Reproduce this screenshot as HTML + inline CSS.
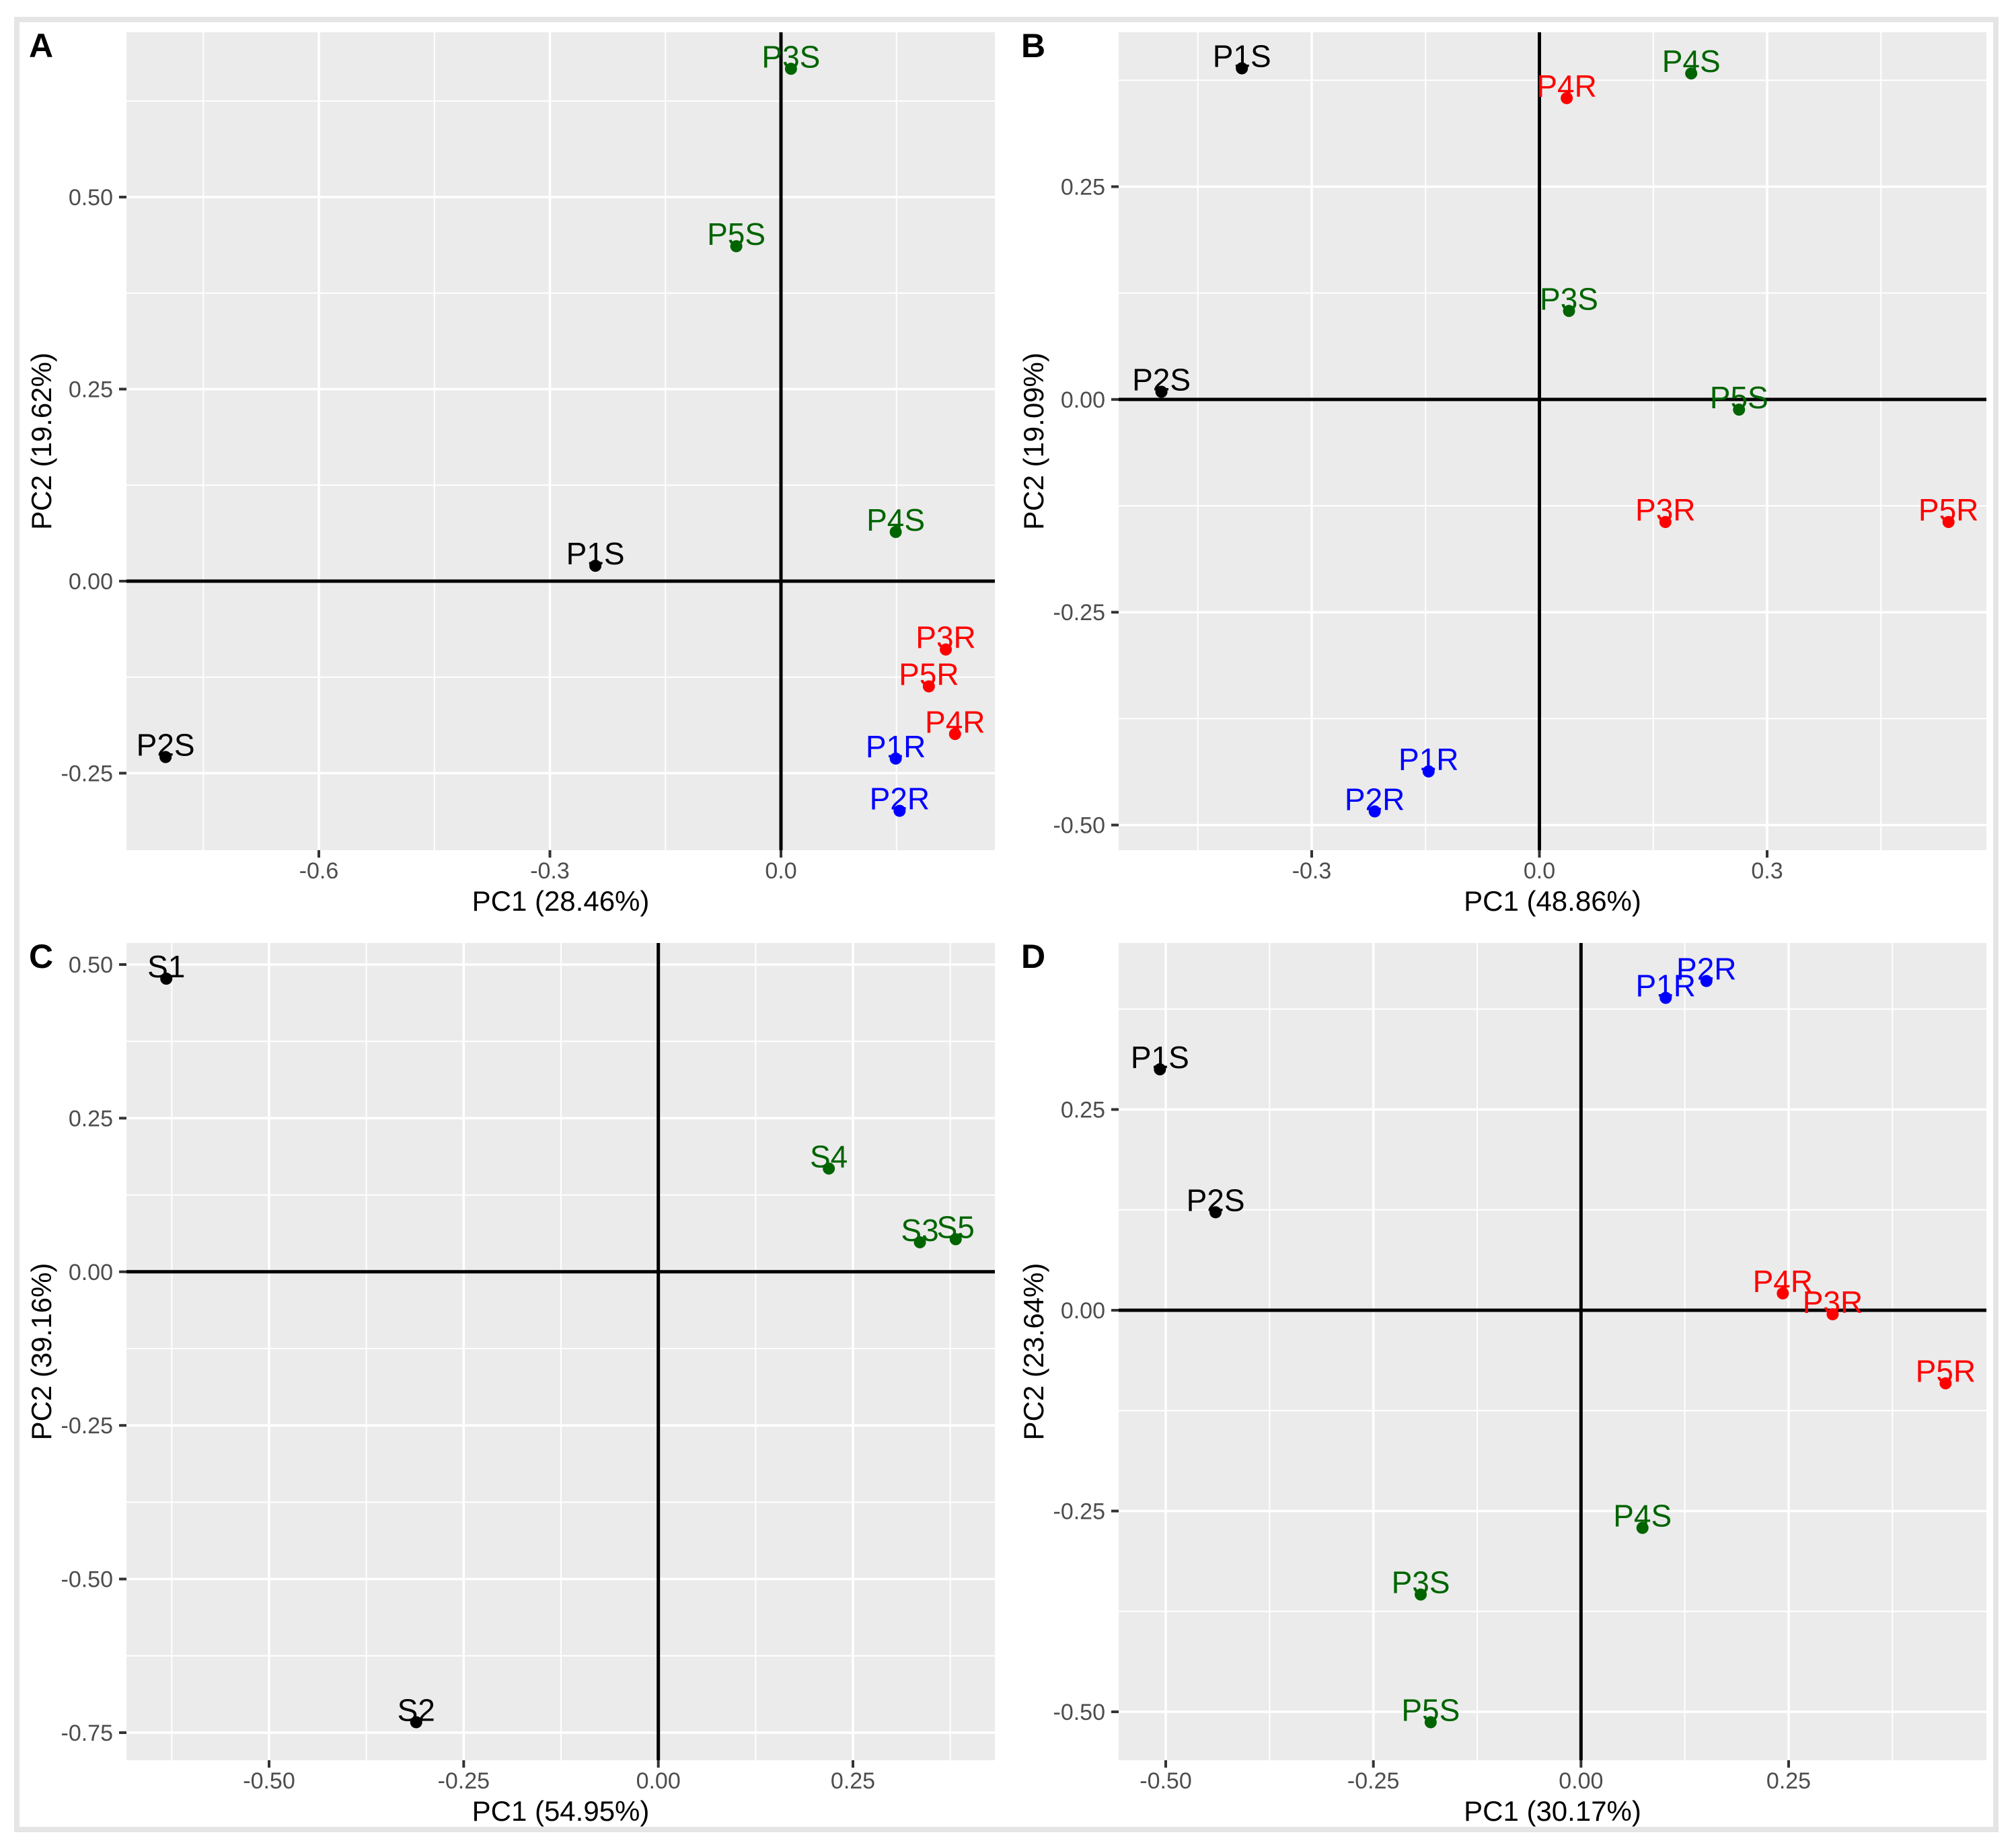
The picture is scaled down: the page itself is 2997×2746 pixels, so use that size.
<!DOCTYPE html>
<html><head><meta charset="utf-8"><style>
html,body{margin:0;padding:0;background:#fff;}
svg{display:block;font-family:"Liberation Sans",Arial,sans-serif;}
</style></head><body>
<svg id="fig" width="2997" height="2746" viewBox="0 0 2997 2746" xmlns="http://www.w3.org/2000/svg">
<rect x="0" y="0" width="2997" height="2746" fill="#fff"/>
<rect x="25" y="29" width="2942" height="2691" fill="none" stroke="#e5e5e5" stroke-width="8"/>
</svg>
<script>
// ---- data: panel A ----
const aLabels = ["P3S","P5S","P4S","P1S","P3R","P5R","P4R","P1R","P2R","P2S"];
const aPC1 = [0.013,-0.058,0.149,-0.241,0.214,0.192,0.226,0.149,0.154,-0.799];
const aPC2 = [0.667,0.436,0.064,0.020,-0.089,-0.137,-0.199,-0.231,-0.299,-0.229];
const aColors = ["g","g","g","k","r","r","r","b","b","k"];
// ---- data: panel B ----
const bLabels = ["P1S","P4S","P4R","P3S","P2S","P5S","P3R","P5R","P1R","P2R"];
const bPC1 = [-0.392,0.200,0.036,0.039,-0.498,0.263,0.166,0.539,-0.146,-0.217];
const bPC2 = [0.389,0.383,0.354,0.104,0.009,-0.012,-0.144,-0.144,-0.437,-0.484];
const bColors = ["k","g","r","g","k","g","r","r","b","b"];
// ---- data: panel C ----
const cLabels = ["S1","S4","S3","S5","S2"];
const cPC1 = [-0.632,0.219,0.336,0.382,-0.311];
const cPC2 = [0.477,0.168,0.048,0.053,-0.733];
const cColors = ["k","g","g","g","k"];
// ---- data: panel D ----
const dLabels = ["P2R","P1R","P1S","P2S","P4R","P3R","P5R","P4S","P3S","P5S"];
const dPC1 = [0.151,0.102,-0.507,-0.440,0.243,0.303,0.439,0.074,-0.193,-0.181];
const dPC2 = [0.410,0.389,0.300,0.122,0.021,-0.005,-0.091,-0.271,-0.354,-0.513];
const dColors = ["b","b","k","k","r","r","r","g","g","g"];
// ---- axis titles ----
const xTitles = ["PC1 (28.46%)","PC1 (48.86%)","PC1 (54.95%)","PC1 (30.17%)"];
const yTitles = ["PC2 (19.62%)","PC2 (19.09%)","PC2 (39.16%)","PC2 (23.64%)"];
const panelLetters = ["A","B","C","D"];

const COL = {k:"#000000", g:"#006400", r:"#ff0000", b:"#0000ff"};
const NS = "http://www.w3.org/2000/svg";
const svg = document.getElementById("fig");
function mk(tag, attrs, parent){
  const e = document.createElementNS(NS, tag);
  for (const k in attrs) e.setAttribute(k, attrs[k]);
  (parent||svg).appendChild(e); return e;
}

const panels = [
  {rect:[188,48,1479,1264], xa:[-0.6,474,0,1161], ya:[0.5,293,0,864], xstep:0.3, ystep:0.25, xdec:1, ydec:2,
   L:aLabels, X:aPC1, Y:aPC2, C:aColors},
  {rect:[1663,48,2953,1264], xa:[-0.3,1950,0.3,2627], ya:[0.25,277.5,-0.5,1226.6], xstep:0.3, ystep:0.25, xdec:1, ydec:2,
   L:bLabels, X:bPC1, Y:bPC2, C:bColors},
  {rect:[188,1402,1479,2617], xa:[-0.5,400,0.25,1268], ya:[0.5,1434,-0.75,2576], xstep:0.25, ystep:0.25, xdec:2, ydec:2,
   L:cLabels, X:cPC1, Y:cPC2, C:cColors},
  {rect:[1663,1402,2953,2617], xa:[-0.5,1733,0.25,2659], ya:[0.25,1649.5,-0.5,2545], xstep:0.25, ystep:0.25, xdec:2, ydec:2,
   L:dLabels, X:dPC1, Y:dPC2, C:dColors}
];

panels.forEach((p, i) => {
  const [x0,y0,x1,y1] = p.rect;
  const kx = (p.xa[3]-p.xa[1])/(p.xa[2]-p.xa[0]);
  const ky = (p.ya[3]-p.ya[1])/(p.ya[2]-p.ya[0]);
  const sx = v => p.xa[1] + (v-p.xa[0])*kx;
  const sy = v => p.ya[1] + (v-p.ya[0])*ky;
  const xmin = p.xa[0] + (x0-p.xa[1])/kx, xmax = p.xa[0] + (x1-p.xa[1])/kx;
  const ymax = p.ya[0] + (y0-p.ya[1])/ky, ymin = p.ya[0] + (y1-p.ya[1])/ky;

  const g = mk("g", {});
  
  
  const bg = mk("rect", {x:x0, y:y0, width:x1-x0, height:y1-y0, fill:"#ebebeb"}, g);
  
  

  const gridG = mk("g", {}, g);
  
  
  for (let k = Math.ceil((xmin - p.xstep/2)/p.xstep); k*p.xstep + p.xstep/2 <= xmax; k++) {
    const v = k*p.xstep + p.xstep/2; if (v < xmin) continue;
    mk("line", {x1:sx(v), x2:sx(v), y1:y0, y2:y1, stroke:"#fff", "stroke-width":2}, gridG);
  }
  for (let k = Math.ceil((ymin - p.ystep/2)/p.ystep); k*p.ystep + p.ystep/2 <= ymax; k++) {
    const v = k*p.ystep + p.ystep/2; if (v < ymin) continue;
    mk("line", {x1:x0, x2:x1, y1:sy(v), y2:sy(v), stroke:"#fff", "stroke-width":2}, gridG);
  }
  const xt = [], yt = [];
  for (let k = Math.ceil(xmin/p.xstep - 1e-9); k*p.xstep <= xmax + 1e-9; k++) xt.push(k*p.xstep);
  for (let k = Math.ceil(ymin/p.ystep - 1e-9); k*p.ystep <= ymax + 1e-9; k++) yt.push(k*p.ystep);
  xt.forEach(v => {
    const X = sx(v);
    mk("line", {x1:X, x2:X, y1:y0, y2:y1, stroke:"#fff", "stroke-width":3.5}, gridG);
    mk("line", {x1:X, x2:X, y1:y1, y2:y1+11, stroke:"#333", "stroke-width":4}, g);
    const t = mk("text", {x:X, y:y1+42, "text-anchor":"middle", "font-size":34, fill:"#4d4d4d"}, g);
    t.textContent = (Math.abs(v)<1e-9?0:v).toFixed(p.xdec);
    
    
  });
  yt.forEach(v => {
    const Y = sy(v);
    mk("line", {x1:x0, x2:x1, y1:Y, y2:Y, stroke:"#fff", "stroke-width":3.5}, gridG);
    mk("line", {x1:x0-11, x2:x0, y1:Y, y2:Y, stroke:"#333", "stroke-width":4}, g);
    const t = mk("text", {x:x0-20, y:Y+12, "text-anchor":"end", "font-size":34, fill:"#4d4d4d"}, g);
    t.textContent = (Math.abs(v)<1e-9?0:v).toFixed(p.ydec);
    
    
  });
  const zx = mk("line", {x1:x0, x2:x1, y1:sy(0), y2:sy(0), stroke:"#000", "stroke-width":5}, g);
  
  
  const zy = mk("line", {x1:sx(0), x2:sx(0), y1:y0, y2:y1, stroke:"#000", "stroke-width":5}, g);
  
  

  p.L.forEach((lab, j) => {
    const cx = sx(p.X[j]), cy = sy(p.Y[j]), col = COL[p.C[j]];
    const c = mk("circle", {cx:cx, cy:cy, r:9, fill:col}, g);
    
    
    const t = mk("text", {x:cx, y:cy-2, "text-anchor":"middle", "font-size":46, fill:col}, g);
    t.textContent = lab;
    
    
  });

  const xtT = mk("text", {x:(x0+x1)/2, y:y1+90, "text-anchor":"middle", "font-size":42, fill:"#000"}, g);
  xtT.textContent = xTitles[i];
  
  
  const yx = x0 - 112, yy = (y0+y1)/2;
  const ytT = mk("text", {x:yx, y:yy, "text-anchor":"middle", "font-size":42, fill:"#000",
    transform:"rotate(-90 "+yx+" "+yy+")"}, g);
  ytT.textContent = yTitles[i];
  
  

  const pl = mk("text", {x:x0-145, y:y0+37, "font-size":50, "font-weight":"bold", fill:"#000"}, g);
  pl.textContent = panelLetters[i];
  
  
});
</script>
</body></html>
